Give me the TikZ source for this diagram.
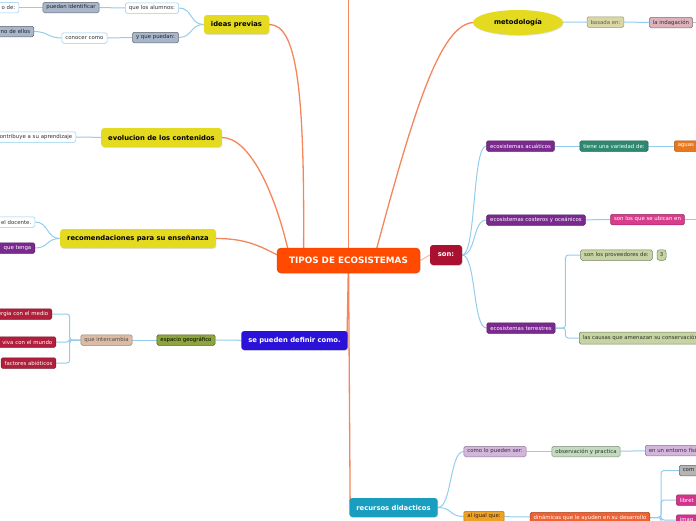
\documentclass[tikz,border=0pt]{standalone}
\usepackage{fontspec}
\setmainfont{DejaVu Sans}
\usetikzlibrary{shapes.geometric,backgrounds,shadows}
\definecolor{cTrunk}{HTML}{F5855A}
\definecolor{cTwig}{HTML}{93CDEE}
\definecolor{cTop}{HTML}{FF4A00}
\definecolor{cSon}{HTML}{AA1030}
\definecolor{cYel}{HTML}{E4DA1F}
\definecolor{cBlu}{HTML}{2C12D9}
\definecolor{cTeal}{HTML}{1A9EC0}
\definecolor{cPur}{HTML}{7A2A8E}
\definecolor{cJade}{HTML}{2F8870}
\definecolor{cOra}{HTML}{E8781E}
\definecolor{cPink}{HTML}{D83C8C}
\definecolor{cSage}{HTML}{C6D3A2}
\definecolor{cKhaki}{HTML}{DAD6A6}
\definecolor{cRose}{HTML}{DDB3BB}
\definecolor{cSlate}{HTML}{A8B6CA}
\definecolor{cCrim}{HTML}{B01F3C}
\definecolor{cOlive}{HTML}{8DA53C}
\definecolor{cTan}{HTML}{D9BBA6}
\definecolor{cLila}{HTML}{D4B6DC}
\definecolor{cMint}{HTML}{C2DABE}
\definecolor{cAmb}{HTML}{F0A022}
\definecolor{cFlame}{HTML}{F06232}
\definecolor{cGrey}{HTML}{B4B4B4}
\definecolor{cMag}{HTML}{D3338E}
\tikzset{
  trunk/.style={line width=1.3pt, cTrunk},
  twig/.style={line width=1pt, cTwig},
  main/.style={rounded corners=3pt, font=\bfseries\fontsize{6.8}{8}\selectfont, minimum height=19pt,
    inner xsep=7pt, inner ysep=0pt, drop shadow={opacity=.25, shadow xshift=.6pt, shadow yshift=-.8pt}},
  leaf/.style={rounded corners=1.5pt, font=\fontsize{5.4}{6}\selectfont, minimum height=10.5pt,
    inner xsep=3.5pt, inner ysep=0pt, line width=.5pt},
  lWhite/.style={leaf, fill=white, draw=cTwig, text=black!80},
  lPur/.style={leaf, fill=cPur, draw=cPur!70!black, text=white},
  lJade/.style={leaf, fill=cJade, draw=cJade!70!black, text=white},
  lOra/.style={leaf, fill=cOra, draw=cOra!70!black, text=white},
  lPink/.style={leaf, fill=cPink, draw=cPink!70!black, text=white},
  lCrim/.style={leaf, fill=cCrim, draw=cCrim!70!black, text=white},
  lFlame/.style={leaf, fill=cFlame, draw=cFlame!70!black, text=white},
  lMag/.style={leaf, fill=cMag, draw=cMag!70!black, text=white},
  lSage/.style={leaf, fill=cSage, draw=cSage!60!black, text=cSage!25!black},
  lKhaki/.style={leaf, fill=cKhaki, draw=cKhaki!70!black, text=cKhaki!45!black},
  lRose/.style={leaf, fill=cRose, draw=cRose!60!black, text=cRose!25!black},
  lSlate/.style={leaf, fill=cSlate, draw=cSlate!55!black, text=cSlate!20!black},
  lOlive/.style={leaf, fill=cOlive, draw=cOlive!55!black, text=black},
  lTan/.style={leaf, fill=cTan, draw=cTan!70!black, text=cTan!40!black},
  lLila/.style={leaf, fill=cLila, draw=cLila!65!black, text=cLila!25!black},
  lMint/.style={leaf, fill=cMint, draw=cMint!65!black, text=cMint!25!black},
  lAmb/.style={leaf, fill=cAmb, draw=cAmb!70!black, text=black!85},
  lGrey/.style={leaf, fill=cGrey, draw=cGrey!55!black, text=black!85},
  cutL/.style={text width=#1, align=right},
  cutR/.style={text width=#1, align=left},
}
\newcommand{\bend}[3][]{\draw[#1] (#2) .. controls +(14,0) and +(-14,0) .. (#3);}
\newcommand{\bendl}[3][]{\draw[#1] (#2) .. controls +(-14,0) and +(14,0) .. (#3);}
\newcommand{\elbow}[4][]{\draw[#1, rounded corners=3pt] (#2) -- ++(#4,0) |- (#3);}

\begin{document}
\begin{tikzpicture}[x=1pt,y=1pt]
\useasboundingbox (0,0) rectangle (696,-520);
% main topics
\node[main, fill=cTop, draw=cTop!85!black, text=white, font=\bfseries\fontsize{8.8}{10}\selectfont,
  minimum width=143pt, minimum height=25pt, rounded corners=4pt] (tipos) at (348.5,-260.5) {TIPOS DE ECOSISTEMAS};
\node[main, fill=cSon, text=white, minimum width=32pt, minimum height=20pt, inner xsep=3pt] (son) at (446,-255) {son:};
\node[main, fill=cYel] (ideas) at (236.5,-24.5) {ideas previas};
\node[main, fill=cYel] (evol) at (161.5,-137.5) {evolucion de los contenidos};
\node[main, fill=cYel] (reco) at (138,-238.5) {recomendaciones para su enseñanza};
\node[main, fill=cBlu, text=white] (defin) at (294.5,-340.5) {se pueden definir como.};
\node[main, ellipse, fill=cYel, minimum width=90pt, minimum height=25pt] (metod) at (518,-22.5) {metodología};
\node[main, fill=cTeal, text=white] (recur) at (393.5,-507.5) {recursos didacticos};
\coordinate (topend) at (348.5,5);

% right side
\node[lPur] (acua) at (520.5,-146) {ecosistemas acuáticos};
\node[lJade] (varied) at (614,-146) {tiene una variedad de:};
\node[lOra, cutR=40pt, anchor=west] (aguas) at (674,-146) {aguas};
\node[lPur] (coste) at (536,-220) {ecosistemas costeros y oceánicos};
\node[lPink] (ubican) at (647.5,-219.5) {son los que se ubican en};
\coordinate (ubicanend) at (700,-219.5);
\node[lPur] (terre) at (521,-328) {ecosistemas terrestres};
\node[lSage] (prove) at (616.5,-255) {son los proveedores de:};
\node[lSage, minimum width=9pt, inner xsep=1pt, rounded corners=2.5pt] (tres) at (661.5,-255) {3};
\node[lSage, anchor=west, minimum height=12pt] (causas) at (579,-338) {las causas que amenazan su conservación};
\node[lKhaki] (basada) at (605.5,-22) {basada en:};
\node[lRose] (indag) at (671,-22.5) {la indagación};
\coordinate (indagend) at (700,-22.5);

% left side
\node[lWhite] (alumnos) at (152,-8) {que los alumnos:};
\node[lSlate] (identif) at (71,-7.5) {puedan identificar};
\node[lWhite, cutL=30pt, anchor=east] (ode) at (19,-7.5) {o de:};
\node[lSlate] (puedan) at (155.5,-37.5) {y que puedan:};
\node[lWhite] (conocer) at (84.5,-38) {conocer como};
\node[lSlate, cutL=50pt, anchor=east] (ellos) at (34,-31.5) {no de ellos};
\node[lWhite, cutL=90pt, anchor=east] (aprend) at (76,-137) {contribuye a su aprendizaje};
\node[lWhite, cutL=40pt, anchor=east] (docente) at (35,-222) {el docente.};
\node[lPur, cutL=40pt, anchor=east] (tenga) at (35,-248) {que tenga};
\node[lOlive] (espacio) at (186,-340) {espacio geográfico};
\node[lTan] (interc) at (106.5,-340) {que intercambia};
\node[lCrim, cutL=60pt, anchor=east] (energia) at (52,-314) {ergia con el medio};
\node[lCrim, cutL=60pt, anchor=east] (mundo) at (56,-342) {viva con el mundo};
\node[lCrim] (abiot) at (28.5,-363) {factores abióticos};

% bottom
\node[lLila] (comolo) at (495,-451.5) {como lo pueden ser:};
\node[lMint] (observ) at (586,-451.5) {observación y practica};
\node[lLila, cutR=60pt, anchor=west] (entorno) at (645,-450.5) {en un entorno físico};
\node[lAmb] (aligual) at (484,-516.5) {al igual que:};
\node[lFlame] (dinam) at (590,-517.5) {dinámicas que le ayuden en su desarrollo};
\node[lGrey, cutR=40pt, anchor=west] (compu) at (679,-470.5) {com};
\node[lMag, cutR=40pt, anchor=west] (libret) at (676,-500) {libret};
\node[lMag, cutR=40pt, anchor=west] (imag) at (676,-520) {imag};

\begin{scope}[on background layer]
  \draw[trunk] (ideas.east) .. controls +(28,0) and +(1.5,170) .. ([xshift=-45pt]tipos.center);
  \draw[trunk] (evol.east) .. controls +(27,0) and +(-15,70) .. ([xshift=-58pt]tipos.center);
  \draw[trunk] (reco.east) .. controls +(35,0) and +(-25,12) .. ([xshift=-60pt]tipos.center);
  \draw[trunk] (metod.west) .. controls +(-33,-3) and +(40,150) .. ([xshift=25pt]tipos.center);
  \draw[trunk] (tipos.center) -- (topend);
  \draw[trunk] (tipos.center) -- ([xshift=-1pt]defin.east);
  \draw[trunk] (tipos.center) -- ([xshift=1pt,yshift=-4pt]recur.north west);
  \draw[trunk, cTrunk!60, line width=1pt] (tipos.east) -- (son.west);
  \bend[twig]{son.east}{acua.west}
  \bend[twig]{son.east}{coste.west}
  \bend[twig]{son.east}{terre.west}
  \draw[twig] (acua) -- (varied);
  \draw[twig] (varied) -- (aguas);
  \draw[twig] (coste) -- (ubican);
  \draw[twig] (ubican) -- (ubicanend);
  \elbow[twig]{terre.east}{prove.west}{10}
  \elbow[twig]{terre.east}{causas.west}{10}
  \draw[twig] (metod) -- (basada);
  \draw[twig] (basada) -- (indag);
  \draw[twig] (indag) -- (indagend);
  \bendl[twig]{ideas.west}{alumnos.east}
  \bendl[twig]{ideas.west}{puedan.east}
  \draw[twig] (alumnos) -- (identif);
  \draw[twig] (identif) -- (ode);
  \draw[twig] (puedan) -- (conocer);
  \bendl[twig]{conocer.west}{ellos.east}
  \draw[twig] (evol) -- (aprend);
  \bendl[twig]{reco.west}{docente.east}
  \bendl[twig]{reco.west}{tenga.east}
  \draw[twig] (defin) -- (espacio);
  \draw[twig] (espacio) -- (interc);
  \elbow[twig]{interc.west}{energia.east}{-11}
  \elbow[twig]{interc.west}{mundo.east}{-11}
  \elbow[twig]{interc.west}{abiot.east}{-11}
  \bend[twig]{recur.east}{comolo.west}
  \bend[twig]{recur.east}{aligual.west}
  \draw[twig] (comolo) -- (observ);
  \draw[twig] (observ) -- (entorno);
  \draw[twig] (aligual) -- (dinam);
  \elbow[twig]{dinam.east}{compu.west}{11}
  \elbow[twig]{dinam.east}{libret.west}{11}
  \elbow[twig]{dinam.east}{imag.west}{11}
\end{scope}
\end{tikzpicture}
\end{document}
